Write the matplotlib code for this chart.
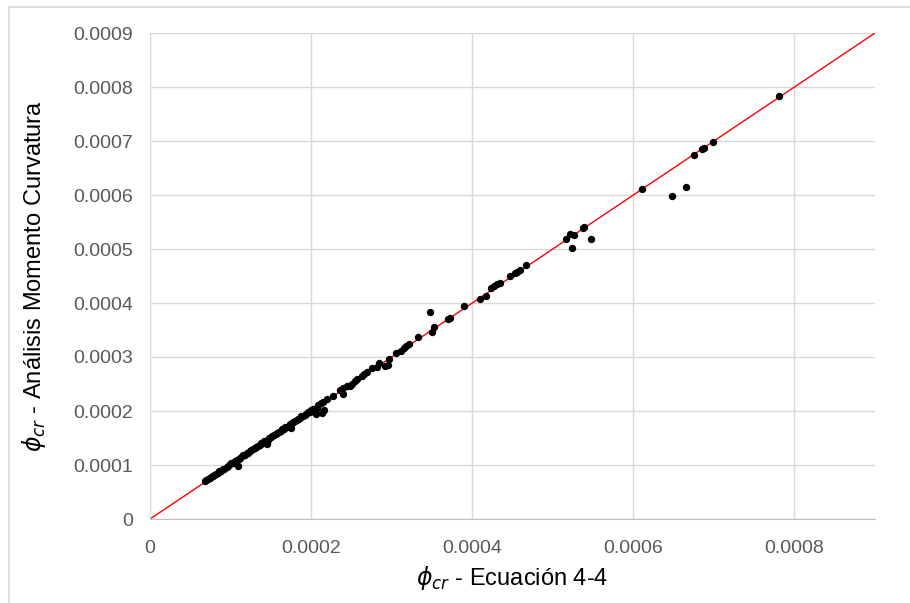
import matplotlib
matplotlib.use("Agg")
import matplotlib.pyplot as plt
from matplotlib.lines import Line2D
from matplotlib.ticker import MultipleLocator, FuncFormatter

# Curvature at cracking: equation 4-4 (x) vs. moment-curvature analysis (y), in 1e-4 units
phi_eq = [
    0.68, 0.70, 0.72, 0.74, 0.76, 0.78, 0.80, 0.82, 0.84, 0.86,
    0.88, 0.90, 0.92, 0.95, 0.97, 0.99, 1.01, 1.03, 1.06, 1.09,
    1.08, 1.10, 1.12, 1.14, 1.16, 1.18, 1.20, 1.22, 1.24, 1.26,
    1.28, 1.30, 1.32, 1.34, 1.36, 1.38, 1.40, 1.42, 1.44, 1.45,
    1.46, 1.48, 1.50, 1.52, 1.54, 1.56, 1.58, 1.60, 1.62, 1.64,
    1.66, 1.68, 1.70, 1.72, 1.74, 1.75, 1.76, 1.78, 1.80, 1.82,
    1.84, 1.86, 1.88, 1.90, 1.92, 1.94, 1.96, 1.98, 2.00, 2.02,
    2.06, 2.07, 2.09, 2.12, 2.13, 2.15, 2.16,
    2.20, 2.27, 2.36, 2.39, 2.40, 2.44, 2.48, 2.51, 2.55, 2.57,
    2.63, 2.66, 2.69, 2.75, 2.82, 2.84, 2.92, 2.96, 2.97, 3.05,
    3.12, 3.15, 3.18, 3.21, 3.33, 3.48, 3.50, 3.53, 3.70, 3.72,
    3.90, 4.10, 4.17, 4.23, 4.27, 4.31, 4.34, 4.47, 4.53, 4.56,
    4.59, 4.67, 5.16, 5.22, 5.24, 5.26, 5.38, 5.39, 5.47,
    6.11, 6.48, 6.66, 6.75, 6.85, 6.88, 6.99, 7.81,
]
phi_mc = [
    0.71, 0.72, 0.74, 0.76, 0.77, 0.80, 0.81, 0.84, 0.85, 0.88,
    0.89, 0.92, 0.93, 0.96, 0.99, 1.01, 1.03, 1.04, 1.07, 0.99,
    1.10, 1.12, 1.13, 1.16, 1.18, 1.19, 1.22, 1.23, 1.26, 1.27,
    1.30, 1.31, 1.34, 1.35, 1.37, 1.40, 1.41, 1.44, 1.45, 1.39,
    1.47, 1.50, 1.51, 1.53, 1.56, 1.57, 1.60, 1.61, 1.63, 1.66,
    1.67, 1.70, 1.71, 1.73, 1.76, 1.69, 1.77, 1.79, 1.82, 1.83,
    1.86, 1.87, 1.90, 1.91, 1.93, 1.95, 1.98, 1.99, 2.01, 2.04,
    1.94, 2.06, 2.11, 2.14, 1.96, 2.17, 2.01,
    2.22, 2.28, 2.39, 2.42, 2.32, 2.46, 2.46, 2.50, 2.56, 2.59,
    2.65, 2.69, 2.73, 2.79, 2.81, 2.88, 2.84, 2.85, 2.96, 3.07,
    3.12, 3.16, 3.21, 3.24, 3.37, 3.83, 3.46, 3.55, 3.70, 3.73,
    3.94, 4.07, 4.13, 4.27, 4.32, 4.35, 4.37, 4.50, 4.56, 4.58,
    4.62, 4.70, 5.19, 5.28, 5.02, 5.26, 5.38, 5.41, 5.19,
    6.11, 5.99, 6.14, 6.75, 6.85, 6.87, 6.99, 7.83,
]
scale = 1e-4
x_vals = [v * scale for v in phi_eq]
y_vals = [v * scale for v in phi_mc]

# Line of equality
ref_line = [0.0, 0.0009]

x_title = r"$\phi_{cr}$ - Ecuación 4-4"
y_title = r"$\phi_{cr}$ - Análisis Momento Curvatura"

plt.rcParams["font.family"] = ["Liberation Sans", "DejaVu Sans"]
plt.rcParams["mathtext.fontset"] = "custom"
plt.rcParams["mathtext.it"] = "DejaVu Sans:italic"
plt.rcParams["mathtext.rm"] = "Liberation Sans"

fig = plt.figure(figsize=(9.10, 6.03), dpi=100)
ax = fig.add_axes([150 / 910, 1 - 519 / 603, 725 / 910, 486 / 603])

grid_c = "#d9d9d9"
ax.set_xlim(0, 0.0009)
ax.set_ylim(0, 0.0009)
ax.xaxis.set_major_locator(MultipleLocator(0.0002))
ax.yaxis.set_major_locator(MultipleLocator(0.0001))

def fmt(v, pos):
    if abs(v) < 1e-12:
        return "0"
    return f"{v:.4f}"

ax.xaxis.set_major_formatter(FuncFormatter(fmt))
ax.yaxis.set_major_formatter(FuncFormatter(fmt))
ax.grid(True, color=grid_c, linewidth=1.0, zorder=0)
ax.set_axisbelow(True)
for side in ("top", "right"):
    ax.spines[side].set_visible(False)
ax.spines["left"].set_color(grid_c)
ax.spines["bottom"].set_color("#bfbfbf")
ax.tick_params(length=0, colors="#595959", labelsize=14)
ax.tick_params(axis="x", pad=15)
ax.tick_params(axis="y", pad=12)
# top gridline at the upper limit
ax.axhline(0.0009, color=grid_c, linewidth=1.0, zorder=0)

ax.plot(ref_line, ref_line, color="#ff0000", linewidth=1.0, zorder=2)
ax.scatter(x_vals, y_vals, s=28, color="black", zorder=3, linewidths=0)

ax.set_xlabel(x_title, fontsize=17, color="black", labelpad=5)
ax.set_ylabel(y_title, fontsize=17, color="black", labelpad=18)

# chart-area frame along the top and left edges
fig.add_artist(Line2D([9 / 910, 1], [1 - 7 / 603, 1 - 7 / 603], color=grid_c, linewidth=1.2))
fig.add_artist(Line2D([9 / 910, 9 / 910], [0, 1 - 7 / 603], color=grid_c, linewidth=1.2))

fig.savefig("out.png", dpi=100)
